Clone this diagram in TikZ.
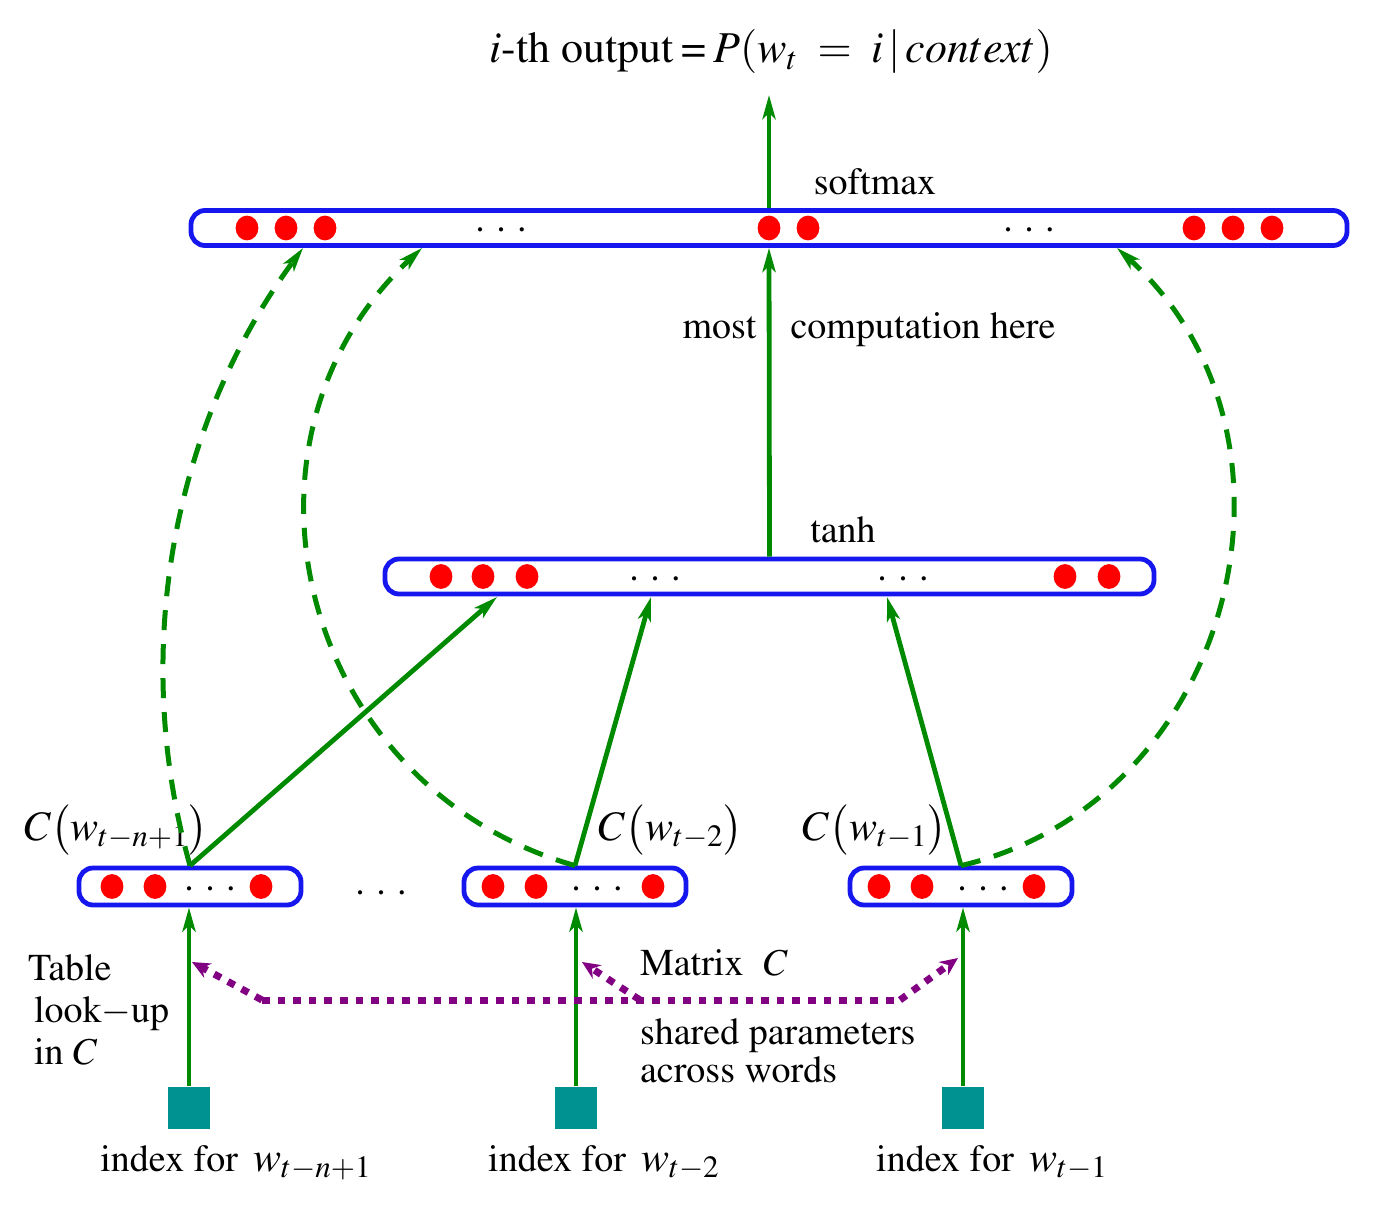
\documentclass[tikz,border=0pt]{standalone}
\usepackage[T1]{fontenc}
\usepackage{mathptmx}
\usepackage{xcolor}
\usetikzlibrary{arrows.meta}

\definecolor{netblue}{RGB}{22,22,238}
\definecolor{netgreen}{RGB}{0,138,0}
\definecolor{netteal}{RGB}{0,145,145}
\definecolor{netpurple}{RGB}{130,0,130}

\newcommand{\gapdots}{.\hspace{0.3em}.\hspace{0.3em}.}
\newcommand{\wordsub}[1]{{\fontsize{21}{24}\selectfont$w_{#1}$}}

\tikzset{
  layer/.style={draw=netblue, line width=2.4pt, rounded corners=7pt, inner sep=0pt, minimum height=17.5pt},
  feed/.style={draw=netgreen, line width=2.4pt, -{Stealth[length=12pt, width=6.5pt, inset=3pt]}},
  share/.style={draw=netgreen, line width=2.5pt, dash pattern=on 10pt off 7pt, -{Stealth[length=12pt, width=6.5pt, inset=3pt]}},
  tie/.style={draw=netpurple, line width=3.5pt, dash pattern=on 3.8pt off 4pt},
  tietip/.style={tie, -{Stealth[length=9pt, width=8pt, inset=3pt]}},
  wordidx/.style={fill=netteal, minimum size=21pt, inner sep=0pt},
  bigmath/.style={font=\fontsize{21}{24}\selectfont},
}

\begin{document}
\begin{tikzpicture}[x=0.5pt, y=-0.5pt, font=\fontsize{19}{21}\selectfont]
        \useasboundingbox (0,0) rectangle (1374,1230);

        % Output
        \node[font=\fontsize{22}{25}\selectfont] (title) at (771,52) {$i$-th output\,=\,$P(w_t\;=\;i\,|\,context)$};
        \coordinate (out) at (769,95);

        % Softmax layer
        \node[layer, minimum width=578pt] (softmax) at (769,228) {};
        \foreach \x in {247,286,325,769,808,1194,1233,1272}
            \fill[red] (\x,228) ellipse (5.7pt and 6.2pt);
        \node[anchor=base] (sdots1) at (501,231) {\gapdots};
        \node[anchor=base] (sdots2) at (1029,231) {\gapdots};
        \node (softlbl) at (875,182) {softmax};

        % Hidden tanh layer
        \node[layer, minimum width=384.5pt] (tanh) at (769.5,576.5) {};
        \foreach \x in {441,483,527,1065,1109}
            \fill[red] (\x,576.5) ellipse (5.7pt and 6.2pt);
        \node[anchor=base] (hdots1) at (655,580) {\gapdots};
        \node[anchor=base] (hdots2) at (903,580) {\gapdots};
        \node (tanhlbl) at (843,530) {tanh};
        \node (most) at (869,330) {most\hspace{0.9em}computation here};

        % Word feature vectors
        \node[layer, minimum width=111pt, minimum height=18.5pt] (c1) at (190,886.5) {};
        \node[layer, minimum width=111pt, minimum height=18.5pt] (c2) at (575,886.5) {};
        \node[layer, minimum width=111pt, minimum height=18.5pt] (c3) at (961,886.5) {};
        \foreach \x in {112,155,261,493,536,653,879,922,1034}
            \fill[red] (\x,886.5) ellipse (5.7pt and 6.2pt);
        \node[anchor=base] (cdots1) at (210,890) {\gapdots};
        \node[anchor=base] (cdots2) at (597,890) {\gapdots};
        \node[anchor=base] (cdots3) at (983,890) {\gapdots};
        \node[anchor=base] (between) at (381,894) {\gapdots};
        \node[bigmath] (cl1) at (116,830) {$C\bigl(w_{t-n+1}\bigr)$};
        \node[bigmath] (cl2) at (671,830) {$C\bigl(w_{t-2}\bigr)$};
        \node[bigmath] (cl3) at (875,830) {$C\bigl(w_{t-1}\bigr)$};

        % Word indices
        \node[wordidx] (i1) at (189,1107.5) {};
        \node[wordidx] (i2) at (576,1107.5) {};
        \node[wordidx] (i3) at (963,1107.5) {};
        \node (n1) at (236,1163) {index for\hspace{0.15em} \wordsub{t-n+1}};
        \node (n2) at (604,1163) {index for\hspace{0.15em} \wordsub{t-2}};
        \node (n3) at (992,1163) {index for\hspace{0.15em} \wordsub{t-1}};

        % Side texts
        \node[align=left, anchor=west] (lookup) at (21,1010) {Table\\\hspace*{3pt}look$-$up\\\hspace*{3pt}in $C$};
        \node[anchor=west] (matrix) at (633,963) {Matrix\; $C$};
        \node[align=left, anchor=west] (shared) at (633,1051) {shared parameters\\[-2pt]across words};

        % Feed-forward connections
        \draw[feed] (softmax.north) -- (out);
        \draw[feed] (tanh.north) -- (softmax.south);
        \coordinate (h1) at (497,597);
        \coordinate (h2) at (651,597);
        \coordinate (h3) at (887,597);
        \draw[feed] (c1.north) -- (h1);
        \draw[feed] (c2.north) -- (h2);
        \draw[feed] (c3.north) -- (h3);
        \draw[feed] (i1.north) -- (i1 |- c1.south);
        \draw[feed] (i2.north) -- (i2 |- c2.south);
        \draw[feed] (i3.north) -- (i3 |- c3.south);

        % Direct connections (optional)
        \coordinate (s1) at (303,248);
        \coordinate (s2) at (422,248);
        \coordinate (s3) at (1117,248);
        \draw[share] (c1.north) .. controls (130,653) and (172,426) .. (s1);
        \draw[share] (c2.north) .. controls (300,787) and (214,442) .. (s2);
        \draw[share] (c3.north) .. controls (1233,802) and (1326,437) .. (s3);

        % Shared matrix C
        \coordinate (m1) at (262,1000);
        \coordinate (m2) at (640,1000);
        \coordinate (m3) at (900,1000);
        \coordinate (p1) at (192,962);
        \coordinate (p2) at (582,962);
        \coordinate (p3) at (958,958);
        \draw[tie] (m1) -- (m3);
        \draw[tietip] (m1) -- (p1);
        \draw[tietip] (m2) -- (p2);
        \draw[tietip] (m3) -- (p3);
    \end{tikzpicture}
\end{document}
